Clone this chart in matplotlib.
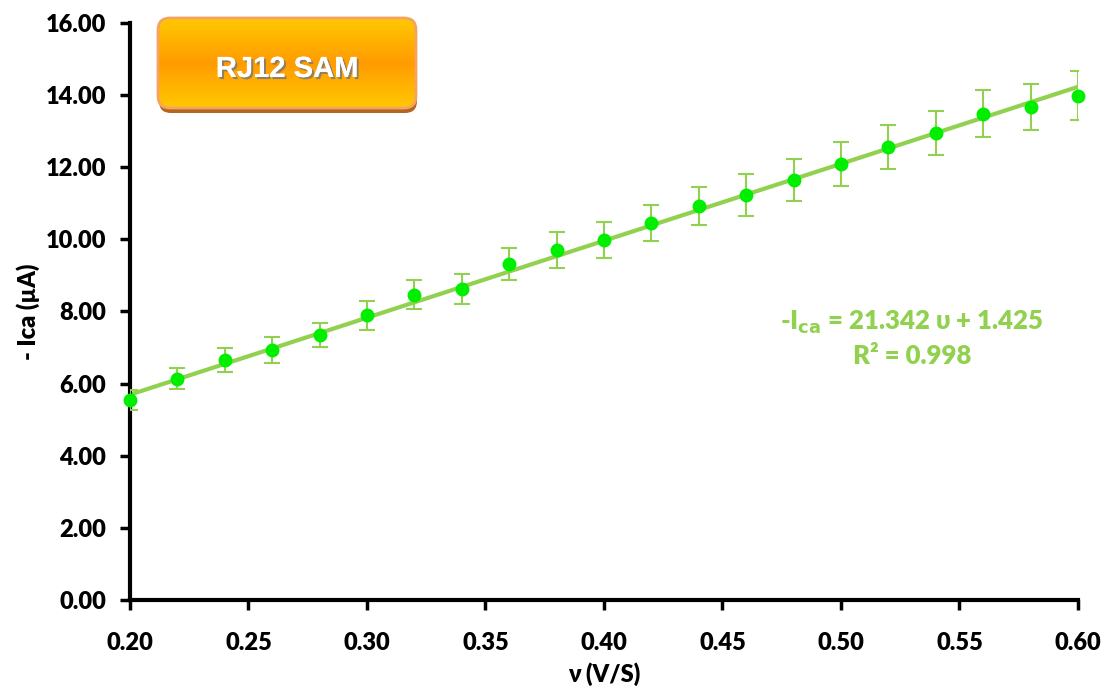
import numpy as np
import matplotlib
matplotlib.use("Agg")
import matplotlib.pyplot as plt
from matplotlib.patches import FancyBboxPatch
import matplotlib.patheffects as pe

# data
scan_rate = [0.20, 0.22, 0.24, 0.26, 0.28, 0.30, 0.32, 0.34, 0.36, 0.38, 0.40,
             0.42, 0.44, 0.46, 0.48, 0.50, 0.52, 0.54, 0.56, 0.58, 0.60]
current = [5.55, 6.13, 6.66, 6.93, 7.35, 7.90, 8.46, 8.62, 9.32, 9.71, 9.98,
           10.45, 10.93, 11.23, 11.65, 12.09, 12.56, 12.95, 13.48, 13.67, 13.98]
err = [0.28, 0.29, 0.33, 0.35, 0.34, 0.40, 0.40, 0.42, 0.45, 0.50, 0.50,
       0.50, 0.52, 0.58, 0.58, 0.60, 0.61, 0.62, 0.65, 0.65, 0.68]
slope = 21.342
intercept = 1.425
xticks = [0.20, 0.25, 0.30, 0.35, 0.40, 0.45, 0.50, 0.55, 0.60]
yticks = [0, 2, 4, 6, 8, 10, 12, 14, 16]

plt.rcParams['font.family'] = ['Lato', 'DejaVu Sans']
plt.rcParams['font.weight'] = 'heavy'

fig = plt.figure(figsize=(11.07, 6.89), dpi=100)
ax = fig.add_axes([0.1174, 0.1292, 0.8564, 0.8374])

line_col = '#92D050'
fx = np.array([scan_rate[0], scan_rate[-1]])
ax.plot(fx, slope * fx + intercept, color=line_col, lw=3, zorder=2)
ax.errorbar(scan_rate, current, yerr=err, fmt='none', ecolor=line_col,
            elinewidth=1.5, capsize=6, capthick=1.5, zorder=3)
ax.plot(scan_rate, current, 'o', color='#00EE00', ms=9, zorder=4, clip_on=False)

ax.set_xlim(0.20, 0.60)
ax.set_ylim(0, 16)
ax.set_xticks(xticks)
ax.set_xticklabels(['%.2f' % v for v in xticks])
ax.set_yticks(yticks)
ax.set_yticklabels(['%.2f' % v for v in yticks])
ax.tick_params(direction='out', length=7, width=2.5, labelsize=17)
ax.tick_params(axis='x', pad=16)
ax.tick_params(axis='y', pad=10)
for s in ['top', 'right']:
    ax.spines[s].set_visible(False)
for s in ['left', 'bottom']:
    ax.spines[s].set_linewidth(3)

ax.set_xlabel('ν (V/S)', fontsize=17, fontweight='heavy', labelpad=6)
ax.set_ylabel('- Ica (µA)', fontsize=17, fontweight='heavy', labelpad=4)

fig.text(912 / 1107, 1 - 322 / 689, r'-I$_{\mathbf{ca}}$ = 21.342 υ + 1.425',
         ha='center', va='center', fontsize=18.5, color=line_col)
fig.text(912 / 1107, 1 - 356 / 689, 'R² = 0.998',
         ha='center', va='center', fontsize=18.5, color=line_col)

# orange badge
gax = fig.add_axes([154 / 1107, 1 - 118 / 689, 268 / 1107, 104 / 689])
gax.set_xlim(0, 268)
gax.set_ylim(104, 0)
gax.axis('off')
style = 'round,pad=0,rounding_size=12'
gax.add_patch(FancyBboxPatch((5, 8), 258, 91, boxstyle=style, fc='#B5651D', ec='none'))
face = FancyBboxPatch((4, 4), 258, 90, boxstyle=style, fc='none', ec='none')
gax.add_patch(face)
grad = np.concatenate([np.linspace(0, 1, 50), np.linspace(1, 0, 50)])
cmap = matplotlib.colors.LinearSegmentedColormap.from_list('o', ['#FFC800', '#FF9C00'])
im = gax.imshow(grad[:, None], aspect='auto', cmap=cmap, extent=[4, 262, 94, 4], zorder=2)
im.set_clip_path(face)
gax.add_patch(FancyBboxPatch((4, 4), 258, 90, boxstyle=style, fc='none',
                             ec='#F4A460', lw=2, zorder=3))
gax.text(133, 55, 'RJ12 SAM', ha='center', va='center',
         fontsize=21, fontweight='bold', color='white', family='Liberation Sans',
         path_effects=[pe.withSimplePatchShadow(offset=(1.5, -1.5), shadow_rgbFace='#777777', alpha=0.8),
                       pe.Normal()], zorder=10)

fig.savefig('out.png', dpi=100)
